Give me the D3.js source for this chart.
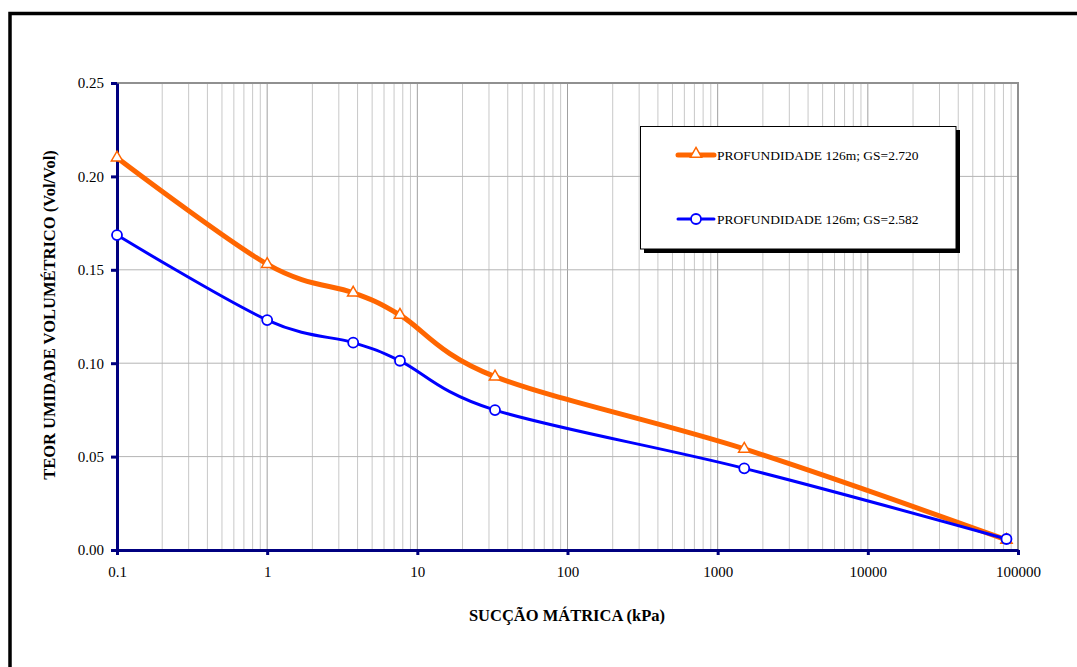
<!DOCTYPE html>
<html>
<head>
<meta charset="utf-8">
<script src="https://cdn.jsdelivr.net/npm/d3@7"></script>
<style>
  html, body { margin: 0; padding: 0; background: #fff; }
  svg { display: block; }
  svg text { font-family: "Liberation Serif", "Times New Roman", serif; }
</style>
</head>
<body>
<svg id="chart" width="1077" height="667"></svg>
<script>
// ---- data ----
const suction = [0.1, 1, 3.74, 7.66, 32.9, 1503, 83800];
const thetaGS2720 = [0.210, 0.153, 0.1377, 0.1258, 0.0928, 0.0541, 0.0054];
const thetaGS2582 = [0.1686, 0.1231, 0.1110, 0.1013, 0.0749, 0.0437, 0.0059];
const seriesNames = ["PROFUNDIDADE 126m; GS=2.720", "PROFUNDIDADE 126m; GS=2.582"];
const xTickValues = [0.1, 1, 10, 100, 1000, 10000, 100000];
const xTickLabels = ["0.1", "1", "10", "100", "1000", "10000", "100000"];
const yTickValues = [0, 0.05, 0.10, 0.15, 0.20, 0.25];
const xTitle = "SUCÇÃO MÁTRICA (kPa)";
const yTitle = "TEOR UMIDADE VOLUMÉTRICO (Vol/Vol)";

const svg = d3.select("#chart");
const L = 117, R = 1018, T = 83, B = 550;

// outer frame
svg.append("rect").attr("x", 10).attr("y", 13.5).attr("width", 1100).attr("height", 700)
  .attr("fill", "none").attr("stroke", "#000").attr("stroke-width", 3.5);

const x = d3.scaleLog().domain([0.1, 100000]).range([L, R]);
const y = d3.scaleLinear().domain([0, 0.25]).range([B, T]);

// minor vertical grid
const minor = [];
for (let e = -1; e < 5; e++) for (let k = 2; k <= 9; k++) minor.push(k * Math.pow(10, e));
svg.append("g").selectAll("line").data(minor).join("line")
  .attr("x1", d => x(d)).attr("x2", d => x(d)).attr("y1", T).attr("y2", B)
  .attr("stroke", "#c8c8c8").attr("stroke-width", 1);
// major vertical grid
svg.append("g").selectAll("line").data(xTickValues).join("line")
  .attr("x1", d => x(d)).attr("x2", d => x(d)).attr("y1", T).attr("y2", B)
  .attr("stroke", "#a0a0a0").attr("stroke-width", 1);
// horizontal grid
svg.append("g").selectAll("line").data(yTickValues).join("line")
  .attr("x1", L).attr("x2", R).attr("y1", d => y(d)).attr("y2", d => y(d))
  .attr("stroke", "#b4b4b4").attr("stroke-width", 1);
// plot border top/right
svg.append("path").attr("d", `M${L},${T}H${R}V${B}`).attr("fill", "none")
  .attr("stroke", "#909090").attr("stroke-width", 2);

// axes
const xAxis = d3.axisBottom(x).tickValues(xTickValues).tickFormat((d, i) => xTickLabels[i])
  .tickSizeOuter(0).tickSizeInner(5).tickPadding(11);
const gx = svg.append("g").attr("transform", `translate(0,${B})`).call(xAxis);
gx.attr("font-family", null).attr("font-size", null);
gx.select(".domain").attr("stroke", "#000080").attr("stroke-width", 3);
gx.selectAll(".tick line").attr("stroke", "#000080").attr("stroke-width", 3);
gx.selectAll(".tick text").style("font-size", "15px").attr("fill", "#000");

const yAxis = d3.axisLeft(y).tickValues(yTickValues).tickFormat(d3.format(".2f"))
  .tickSizeOuter(0).tickSizeInner(6).tickPadding(7);
const gy = svg.append("g").attr("transform", `translate(${L},0)`).call(yAxis);
gy.attr("font-family", null).attr("font-size", null);
gy.select(".domain").attr("stroke", "#000080").attr("stroke-width", 3);
gy.selectAll(".tick line").attr("stroke", "#000080").attr("stroke-width", 3);
gy.selectAll(".tick text").style("font-size", "15px").attr("fill", "#000");

// titles
svg.append("text").attr("x", 567).attr("y", 621).attr("text-anchor", "middle")
  .style("font-size", "16.5px").attr("font-weight", "bold").text(xTitle);
svg.append("text").attr("transform", "translate(55,315) rotate(-90)").attr("text-anchor", "middle")
  .style("font-size", "16.5px").attr("font-weight", "bold").text(yTitle);

// lines
const line = d3.line().curve(d3.curveCardinal.tension(0));
const pts1 = suction.map((s, i) => [x(s), y(thetaGS2720[i])]);
const pts2 = suction.map((s, i) => [x(s), y(thetaGS2582[i])]);
svg.append("path").attr("d", line(pts1)).attr("fill", "none")
  .attr("stroke", "#FF6600").attr("stroke-width", 5).attr("stroke-linejoin", "round");
svg.append("path").attr("d", line(pts2)).attr("fill", "none")
  .attr("stroke", "#0000FF").attr("stroke-width", 3).attr("stroke-linejoin", "round");

const tri = d3.symbol().type(d3.symbolTriangle).size(55);
svg.append("g").selectAll("path").data(pts1).join("path")
  .attr("transform", d => `translate(${d[0]},${d[1]})`).attr("d", tri())
  .attr("fill", "#fff").attr("stroke", "#FF6600").attr("stroke-width", 1.5);
svg.append("g").selectAll("circle").data(pts2).join("circle")
  .attr("cx", d => d[0]).attr("cy", d => d[1]).attr("r", 5)
  .attr("fill", "#fff").attr("stroke", "#0000FF").attr("stroke-width", 1.8);

// legend
const lg = svg.append("g");
lg.append("rect").attr("x", 644).attr("y", 130).attr("width", 316).attr("height", 123).attr("fill", "#000");
lg.append("rect").attr("x", 640.5).attr("y", 126.5).attr("width", 315.5).attr("height", 122.5)
  .attr("fill", "#fff").attr("stroke", "#000").attr("stroke-width", 1);
const ly = [155, 219];
lg.append("line").attr("x1", 678).attr("x2", 714).attr("y1", ly[0]).attr("y2", ly[0])
  .attr("stroke", "#FF6600").attr("stroke-width", 5).attr("stroke-linecap", "round");
lg.append("path").attr("transform", `translate(696,${ly[0] - 1})`).attr("d", tri())
  .attr("fill", "#fff").attr("stroke", "#FF6600").attr("stroke-width", 1.5);
lg.append("line").attr("x1", 678).attr("x2", 714).attr("y1", ly[1]).attr("y2", ly[1])
  .attr("stroke", "#0000FF").attr("stroke-width", 3).attr("stroke-linecap", "round");
lg.append("circle").attr("cx", 696).attr("cy", ly[1]).attr("r", 5)
  .attr("fill", "#fff").attr("stroke", "#0000FF").attr("stroke-width", 1.8);
seriesNames.forEach((n, i) => {
  lg.append("text").attr("x", 717).attr("y", ly[i] + 5).style("font-size", "13.5px").text(n);
});
</script>
</body>
</html>
